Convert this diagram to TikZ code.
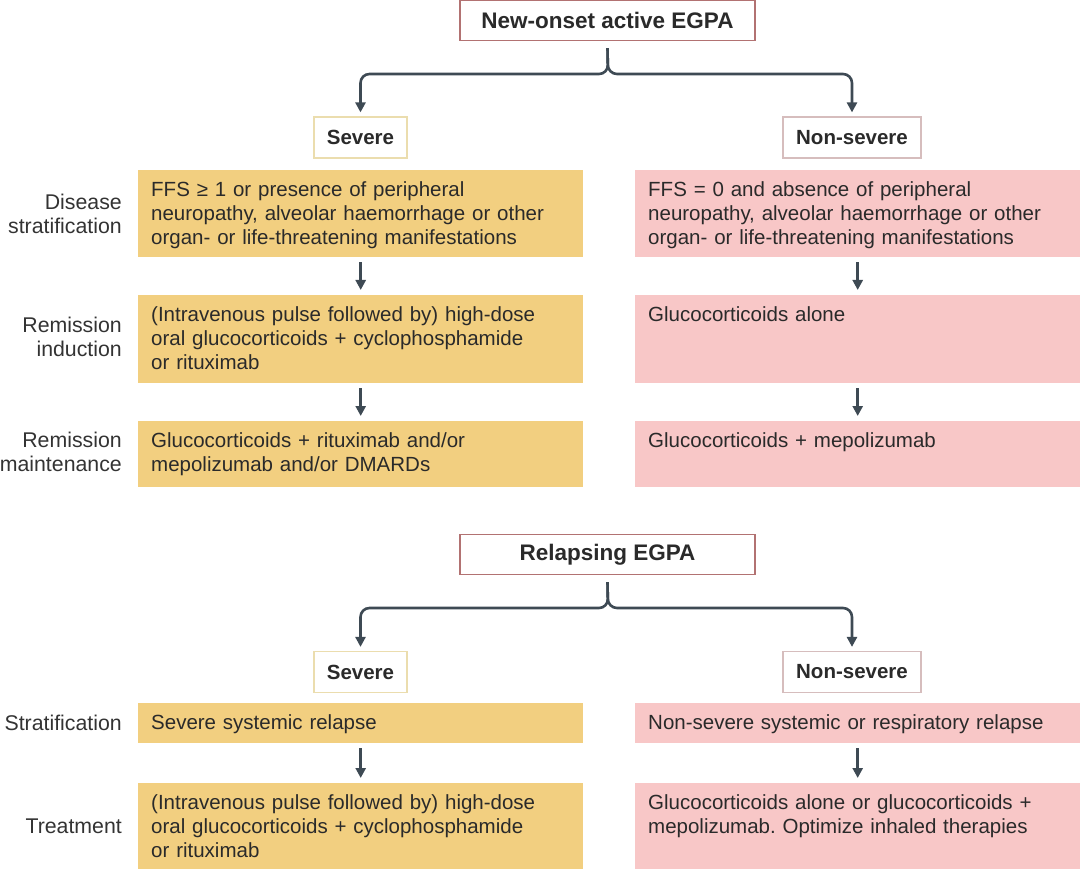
\documentclass[tikz,border=0pt]{standalone}
\usepackage{fontspec}
\setmainfont{Liberation Sans}
\usetikzlibrary{arrows.meta,calc}
\definecolor{yfill}{HTML}{F2CF80}
\definecolor{pfill}{HTML}{F8C7C7}
\definecolor{txtc}{HTML}{2A2A2A}
\definecolor{lblc}{HTML}{333333}
\definecolor{arrc}{HTML}{3E4A54}
\definecolor{hdborder}{HTML}{B27272}
\definecolor{sevborder}{HTML}{EBDDAE}
\definecolor{nsborder}{HTML}{D6BDBD}
\newcommand\mybody{\fontsize{20.5}{24}\selectfont\frenchspacing}
\newcommand\mylbl{\fontsize{21.3}{24}\selectfont}
\newcommand\myhead{\fontsize{22.5}{24}\selectfont\bfseries}
\newcommand\mysev{\fontsize{20.5}{24}\selectfont\bfseries}
\begin{document}
\begin{tikzpicture}[x=1pt,y=-1pt,
  rowbox/.style={minimum width=445pt, inner sep=0pt, anchor=north west, draw=none},
  ybox/.style={rowbox, fill=yfill},
  pbox/.style={rowbox, fill=pfill},
  btxt/.style={anchor=north west, inner sep=0pt, text width=425pt, align=left, font=\mybody, text=txtc},
  lbl/.style={anchor=east, inner sep=0pt, align=right, font=\mylbl, text=lblc},
  headbox/.style={draw=hdborder, line width=1.2pt, fill=white, minimum width=295pt, minimum height=40pt, inner sep=0pt, font=\myhead, text=txtc},
  sevbox/.style={draw=sevborder, line width=1.2pt, fill=white, minimum width=93pt, minimum height=41pt, inner sep=0pt, font=\mysev, text=txtc},
  nsevbox/.style={draw=nsborder, line width=1.2pt, fill=white, minimum width=138pt, minimum height=41pt, inner sep=0pt, font=\mysev, text=txtc},
  tip/.style={-{Triangle[length=10pt,width=10pt]}},
  downarr/.style={draw=arrc, line width=2.6pt, tip, shorten <=5pt, shorten >=5pt},
  brk/.style={draw=arrc, line width=2.6pt, rounded corners=9pt, tip, shorten >=4pt}
]
\useasboundingbox (0,0) rectangle (1080,869);

% ---------- New-onset ----------
\node[headbox] (h1) at (607.5,20.5) {New-onset active EGPA};
\node[sevbox] (s1) at (360.5,137.5) {Severe};
\node[nsevbox] (n1) at (852,137.5) {Non-severe};
\coordinate (j1) at (608,74);
\draw[brk] ($(h1.south)+(0,7)$) -- (j1) -| (s1.north);
\draw[brk] ($(h1.south)+(0,7)$) -- (j1) -| (n1.north);

\node[ybox, minimum height=87pt] (y1) at (138,170) {};
\node[pbox, minimum height=87pt] (p1) at (635,170) {};
\node[ybox, minimum height=88pt] (y2) at (138,295) {};
\node[pbox, minimum height=88pt] (p2) at (635,295) {};
\node[ybox, minimum height=66pt] (y3) at (138,421) {};
\node[pbox, minimum height=66pt] (p3) at (635,421) {};

\node[btxt] (ty1) at ($(y1.north west)+(13,11)$) {FFS ≥ 1 or presence of peripheral\\neuropathy, alveolar haemorrhage or other\\organ- or life-threatening manifestations};
\node[btxt] (tp1) at ($(p1.north west)+(13,11)$) {FFS = 0 and absence of peripheral\\neuropathy, alveolar haemorrhage or other\\organ- or life-threatening manifestations};
\node[btxt] (ty2) at ($(y2.north west)+(13,11)$) {(Intravenous pulse followed by) high-dose\\oral glucocorticoids + cyclophosphamide\\or rituximab};
\node[btxt] (tp2) at ($(p2.north west)+(13,11)$) {Glucocorticoids alone};
\node[btxt] (ty3) at ($(y3.north west)+(13,11)$) {Glucocorticoids + rituximab and/or\\mepolizumab and/or DMARDs};
\node[btxt] (tp3) at ($(p3.north west)+(13,11)$) {Glucocorticoids + mepolizumab};

\node[lbl] (l1) at ($(y1.west)+(-16,0)$) {Disease\\stratification};
\node[lbl] (l2) at ($(y2.west)+(-16,-2)$) {Remission\\induction};
\node[lbl] (l3) at ($(y3.west)+(-16,-2)$) {Remission\\maintenance};

\draw[downarr] (y1.south) -- (y2.north);
\draw[downarr] (y2.south) -- (y3.north);
\draw[downarr] (p1.south) -- (p2.north);
\draw[downarr] (p2.south) -- (p3.north);

% ---------- Relapsing ----------
\node[headbox] (h2) at (607.5,554.5) {Relapsing EGPA};
\node[sevbox] (s2) at (360.5,672) {Severe};
\node[nsevbox] (n2) at (852,672) {Non-severe};
\coordinate (j2) at (608,608);
\draw[brk] ($(h2.south)+(0,7)$) -- (j2) -| (s2.north);
\draw[brk] ($(h2.south)+(0,7)$) -- (j2) -| (n2.north);

\node[ybox, minimum height=40pt] (y4) at (138,703) {};
\node[pbox, minimum height=40pt] (p4) at (635,703) {};
\node[ybox, minimum height=86pt] (y5) at (138,783) {};
\node[pbox, minimum height=86pt] (p5) at (635,783) {};

\node[btxt] (ty4) at ($(y4.north west)+(13,11)$) {Severe systemic relapse};
\node[btxt] (tp4) at ($(p4.north west)+(13,11)$) {Non-severe systemic or respiratory relapse};
\node[btxt] (ty5) at ($(y5.north west)+(13,11)$) {(Intravenous pulse followed by) high-dose\\oral glucocorticoids + cyclophosphamide\\or rituximab};
\node[btxt] (tp5) at ($(p5.north west)+(13,11)$) {Glucocorticoids alone or glucocorticoids +\\mepolizumab. Optimize inhaled therapies};

\node[lbl] (l4) at ($(y4.west)+(-16,0)$) {Stratification};
\node[lbl] (l5) at ($(y5.west)+(-16,0)$) {Treatment};

\draw[downarr] (y4.south) -- (y5.north);
\draw[downarr] (p4.south) -- (p5.north);
\end{tikzpicture}
\end{document}
